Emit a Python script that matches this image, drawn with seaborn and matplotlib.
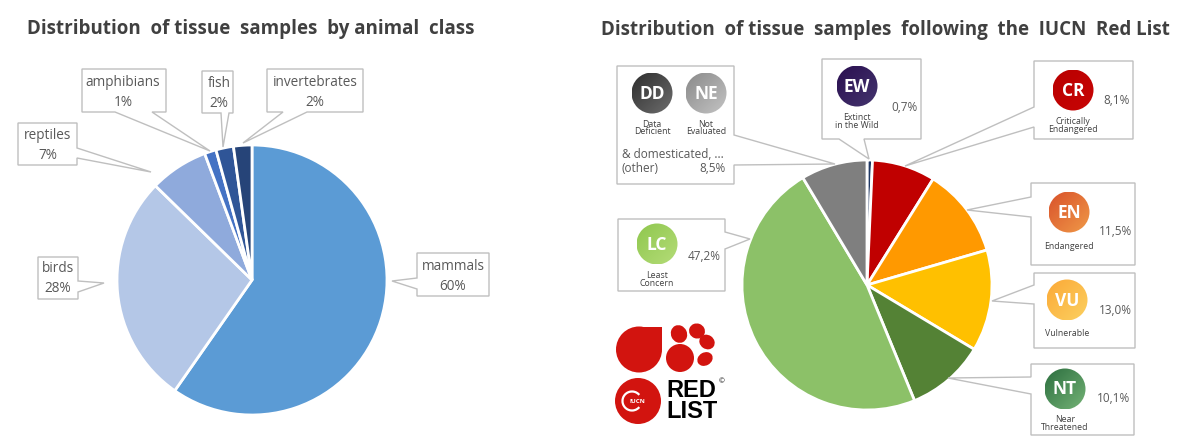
import numpy as np
import matplotlib
matplotlib.use("Agg")
import matplotlib.pyplot as plt
from matplotlib.patches import Circle, Ellipse, Polygon, Rectangle, Arc
import seaborn as sns

sns.set_theme(style="white")
plt.rcParams['font.family'] = ['Open Sans', 'DejaVu Sans']

W, H = 1178, 443

class_names = ['mammals', 'birds', 'reptiles', 'amphibians', 'fish', 'invertebrates']
class_values = [59.7, 27.6, 7.0, 1.4, 2.1, 2.2]
class_labels = ['60%', '28%', '7%', '1%', '2%', '2%']
class_colors = ['#5B9BD5', '#B4C7E7', '#8FAADC', '#4472C4', '#2F5597', '#264478']

red_codes = ['EW', 'CR', 'EN', 'VU', 'NT', 'LC', 'other']
red_values = [0.7, 8.1, 11.5, 13.0, 10.1, 47.2, 8.5]
red_labels = ['0,7%', '8,1%', '11,5%', '13,0%', '10,1%', '47,2%', '8,5%']
red_colors = ['#1F3864', '#C00000', '#FF9900', '#FFC000', '#548235', '#8CC168', '#7F7F7F']


def pie_axes(fig, cx, cy, r, values, colors):
    ax = fig.add_axes([(cx - r) / W, 1 - (cy + r) / H, 2 * r / W, 2 * r / H])
    ax.pie(values, colors=colors, startangle=90, counterclock=False, radius=1,
           wedgeprops={'edgecolor': 'white', 'linewidth': 2})
    ax.set_xlim(-1, 1)
    ax.set_ylim(-1, 1)
    return ax


# box outline with the wedge that points at the slice
def callout(ax, box, tip, a, b, side):
    x0, y0, x1, y1 = box
    if side == 'left':
        pts = [(x0, y0), (x1, y0), (x1, y1), (x0, y1), (x0, b), tip, (x0, a)]
    elif side == 'right':
        pts = [(x0, y0), (x1, y0), (x1, a), tip, (x1, b), (x1, y1), (x0, y1)]
    else:
        pts = [(x0, y0), (x1, y0), (x1, y1), (b, y1), tip, (a, y1), (x0, y1)]
    ax.add_patch(Polygon(pts, closed=True, fc='white', ec='#BFBFBF', lw=1, zorder=3))


def label2(ax, x, y, name, pct):
    ax.text(x, y - 10, name, ha='center', va='center', fontsize=9.8, color='#595959', zorder=5)
    ax.text(x, y + 10, pct, ha='center', va='center', fontsize=9.8, color='#595959', zorder=5)


# round status badge with a diagonal gradient
def badge(ax, cx, cy, code, c1, c2, caption, r=20.5):
    g = np.linspace(0, 1, 64)
    xx, yy = np.meshgrid(g, g)
    t = (xx + yy) / 2
    c1 = np.array(matplotlib.colors.to_rgb(c1))
    c2 = np.array(matplotlib.colors.to_rgb(c2))
    img = c1[None, None, :] * (1 - t[..., None]) + c2[None, None, :] * t[..., None]
    im = ax.imshow(img, extent=(cx - r, cx + r, cy + r, cy - r), aspect='auto',
                   zorder=4, interpolation='bilinear')
    im.set_clip_path(Circle((cx, cy), r, transform=ax.transData))
    ax.text(cx, cy + 0.5, code, ha='center', va='center', color='white',
            fontsize=12.5, fontweight='bold', zorder=5)
    if len(caption) == 1:
        ax.text(cx, cy + 34, caption[0], ha='center', va='center', fontsize=6.3,
                color='#404040', zorder=5)
    else:
        for i, line in enumerate(caption):
            ax.text(cx, cy + 31 + i * 8, line, ha='center', va='center', fontsize=6.3,
                    color='#404040', zorder=5)


def red_list_logo(ax):
    red = '#D2140F'
    ax.add_patch(Circle((639, 349.5), 23, fc=red, ec='none', zorder=4))
    ax.add_patch(Rectangle((639, 326.5), 23, 23, fc=red, ec='none', zorder=4))
    ax.add_patch(Circle((680, 358), 14, fc=red, ec='none', zorder=4))
    ax.add_patch(Ellipse((679, 334), 16, 18, angle=-25, fc=red, ec='none', zorder=4))
    ax.add_patch(Ellipse((697, 331), 16, 15, angle=20, fc=red, ec='none', zorder=4))
    ax.add_patch(Ellipse((707, 342), 16, 14, angle=35, fc=red, ec='none', zorder=4))
    ax.add_patch(Ellipse((705, 359), 16, 13, angle=-30, fc=red, ec='none', zorder=4))
    ax.add_patch(Circle((638, 401), 23, fc=red, ec='none', zorder=4))
    ax.add_patch(Arc((632, 401), 19, 19, theta1=40, theta2=320, ec='white', lw=1.6, zorder=5))
    ax.text(637, 401.5, 'IUCN', ha='center', va='center', color='white', fontsize=4.5,
            fontweight='bold', zorder=6)
    ax.text(666, 401, 'RED\nLIST', ha='left', va='center', ma='left', color='black',
            fontsize=17, linespacing=0.92, family='Liberation Sans', fontweight='bold', zorder=5)
    ax.text(722, 382, '©', ha='center', va='center', color='black', fontsize=5, zorder=5)


fig = plt.figure(figsize=(W / 100, H / 100), dpi=100)
pie_axes(fig, 252, 280, 135, class_values, class_colors)
pie_axes(fig, 867, 285, 125, red_values, red_colors)

# overlay in image pixels for titles, callouts and badges
ov = fig.add_axes([0, 0, 1, 1], zorder=10)
ov.set_xlim(0, W)
ov.set_ylim(H, 0)
ov.axis('off')
ov.patch.set_alpha(0)

title_kw = dict(ha='left', va='center', fontsize=13.5, fontweight='bold', color='#404040', zorder=5)
ov.text(27, 29, 'Distribution  of tissue  samples  by animal  class', **title_kw)
ov.text(601, 30, 'Distribution  of tissue  samples  following  the  IUCN  Red List', **title_kw)

# left chart
callout(ov, (417, 253, 489, 296), (392, 281), 278, 289, 'left')
label2(ov, 453, 277, class_names[0], class_labels[0])
callout(ov, (38, 257, 78, 299), (104, 283), 281, 292, 'right')
label2(ov, 58, 279, class_names[1], class_labels[1])
callout(ov, (18, 123, 77, 165), (151, 172), 148, 158, 'right')
label2(ov, 48, 145.5, class_names[2], class_labels[2])
callout(ov, (82, 69, 166, 112), (210, 151), 115, 152, 'bottom')
label2(ov, 123, 92.5, class_names[3], class_labels[3])
callout(ov, (202, 71, 233, 113), (223, 147), 221, 229, 'bottom')
label2(ov, 219, 93, class_names[4], class_labels[4])
callout(ov, (267, 69, 363, 112), (243, 143), 283, 307, 'bottom')
label2(ov, 315, 92.5, class_names[5], class_labels[5])

# right chart
pct_kw = dict(ha='right', va='center', fontsize=8.5, color='#595959', zorder=5)
callout(ov, (617, 66, 734, 184), (835, 164), 135, 165, 'right')
badge(ov, 652, 93, 'DD', '#2E2E2E', '#6E6E6E', ['Data', 'Deficient'])
badge(ov, 706, 93, 'NE', '#8A8A8A', '#C4C4C4', ['Not', 'Evaluated'])
ov.text(622, 154, '& domesticated, ...', ha='left', va='center', fontsize=8.5, color='#595959', zorder=5)
ov.text(622, 168, '(other)', ha='left', va='center', fontsize=8.5, color='#595959', zorder=5)
ov.text(726, 168, red_labels[6], **pct_kw)

callout(ov, (822, 59, 921, 139), (869, 159), 839, 864, 'bottom')
badge(ov, 857, 86, 'EW', '#2A0F50', '#44356E', ['Extinct', 'in the Wild'])
ov.text(918, 107, red_labels[0], **pct_kw)

callout(ov, (1034, 61, 1133, 139), (905, 166), 107, 127, 'left')
badge(ov, 1073, 90, 'CR', '#B90000', '#C80505', ['Critically', 'Endangered'])
ov.text(1130, 100, red_labels[1], **pct_kw)

callout(ov, (1031, 183, 1135, 265), (967, 210), 197, 217, 'left')
badge(ov, 1069, 212, 'EN', '#D9522B', '#F09A48', ['Endangered'])
ov.text(1132, 231, red_labels[2], **pct_kw)

callout(ov, (1034, 273, 1135, 348), (992, 301), 285, 304, 'left')
badge(ov, 1067, 300, 'VU', '#FBA937', '#FCD060', ['Vulnerable'])
ov.text(1132, 311, red_labels[3], **pct_kw)

callout(ov, (1031, 364, 1134, 435), (948, 378), 377, 394, 'left')
badge(ov, 1065, 389, 'NT', '#2C6E3F', '#74B376', ['Near', 'Threatened'])
ov.text(1130, 399, red_labels[4], **pct_kw)

callout(ov, (618, 219, 725, 291), (750, 239), 232, 249, 'right')
badge(ov, 657, 244, 'LC', '#8FC74E', '#B4DC78', ['Least', 'Concern'])
ov.text(721, 256, red_labels[5], **pct_kw)

red_list_logo(ov)

fig.savefig('out.png', dpi=100, facecolor='white')
